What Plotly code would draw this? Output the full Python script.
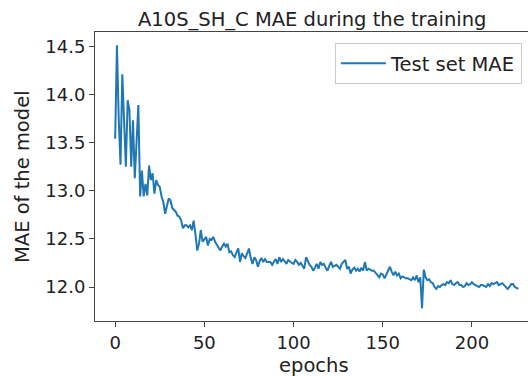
import plotly.graph_objects as go

epochs = list(range(227))
mae = [
    13.54, 14.51, 13.75, 13.27, 14.21, 13.70, 13.25, 13.94, 13.84, 13.25,
    13.73, 13.13, 13.45, 13.89, 12.94, 13.21, 12.94, 13.07, 12.95, 13.26,
    13.11, 13.18, 12.97, 13.11, 13.06, 13.04, 12.94, 12.88, 12.76, 12.86,
    12.92, 12.90, 12.82, 12.80, 12.78, 12.74, 12.73, 12.69, 12.61, 12.64,
    12.64, 12.62, 12.64, 12.59, 12.69, 12.55, 12.38, 12.45, 12.59, 12.47,
    12.50, 12.52, 12.43, 12.50, 12.49, 12.52, 12.47, 12.44, 12.40, 12.38,
    12.42, 12.45, 12.42, 12.45, 12.36, 12.37, 12.33, 12.31, 12.36, 12.40,
    12.26, 12.35, 12.32, 12.30, 12.35, 12.40, 12.30, 12.24, 12.31, 12.28,
    12.21, 12.27, 12.30, 12.26, 12.29, 12.26, 12.26, 12.26, 12.23, 12.26,
    12.29, 12.24, 12.31, 12.26, 12.29, 12.27, 12.24, 12.28, 12.26, 12.25,
    12.24, 12.28, 12.26, 12.23, 12.25, 12.22, 12.19, 12.31, 12.26, 12.23,
    12.21, 12.17, 12.20, 12.24, 12.19, 12.26, 12.23, 12.24, 12.20, 12.17,
    12.22, 12.26, 12.21, 12.22, 12.23, 12.21, 12.19, 12.24, 12.26, 12.28,
    12.19, 12.21, 12.14, 12.18, 12.20, 12.17, 12.19, 12.16, 12.20, 12.17,
    12.26, 12.17, 12.19, 12.18, 12.17, 12.17, 12.15, 12.12, 12.10, 12.14,
    12.13, 12.09, 12.13, 12.17, 12.21, 12.16, 12.12, 12.16, 12.12, 12.14,
    12.09, 12.11, 12.10, 12.09, 12.09, 12.08, 12.07, 12.10, 12.07, 12.12,
    12.05, 12.10, 11.78, 12.18, 12.10, 12.07, 12.08, 12.05, 12.04, 12.00,
    11.98, 12.01, 12.00, 12.02, 12.03, 12.02, 12.05, 12.04, 12.07, 12.03,
    12.02, 12.04, 12.05, 12.02, 12.02, 12.00, 12.01, 12.04, 12.02, 12.03,
    12.05, 12.03, 12.02, 12.01, 12.00, 12.02, 12.02, 12.01, 12.00, 12.03,
    12.01, 12.04, 12.03, 12.04, 12.05, 12.02, 12.03, 12.04, 12.02, 12.00,
    11.98, 12.00, 12.03, 12.03, 12.00, 11.99, 11.98,
]
x_ticks = [0, 50, 100, 150, 200]
y_ticks = [12.0, 12.5, 13.0, 13.5, 14.0, 14.5]

title = "A10S_SH_C MAE during the training"
x_label = "epochs"
y_label = "MAE of the model"
series_name = "Test set MAE"

FONT = "DejaVu Sans"
FS = 19.5
TICK_FS = 18
TXT = "#222222"

fig = go.Figure()
fig.add_trace(go.Scatter(
    x=epochs, y=mae, mode="lines", name=series_name,
    line=dict(color="#1f77b4", width=2),
))

fig.update_layout(
    width=528, height=376,
    margin=dict(l=95, r=0, t=32, b=55, pad=0),
    paper_bgcolor="white", plot_bgcolor="white",
    font=dict(family=FONT, size=FS, color=TXT),
    showlegend=True,
    legend=dict(
        x=0.986, y=0.962, xanchor="right", yanchor="top",
        bgcolor="white", bordercolor="#cccccc", borderwidth=1,
        itemwidth=45,
        font=dict(family=FONT, size=FS, color=TXT),
    ),
    annotations=[
        dict(text=title, xref="paper", yref="paper", x=0.5, y=1.0,
             xanchor="center", yanchor="bottom", yshift=-1.5, showarrow=False,
             font=dict(family=FONT, size=FS, color=TXT)),
        dict(text=x_label, xref="paper", yref="paper", x=0.505, y=0,
             xanchor="center", yanchor="top", yshift=-31, showarrow=False,
             font=dict(family=FONT, size=FS, color=TXT)),
        dict(text=y_label, xref="paper", yref="paper", x=0, y=0.5,
             xanchor="right", yanchor="middle", xshift=-59, textangle=-90,
             showarrow=False, font=dict(family=FONT, size=FS, color=TXT)),
    ],
)
fig.update_xaxes(
    range=[-11.3, 231.4], tickvals=x_ticks, ticktext=[str(v) for v in x_ticks],
    showgrid=False, zeroline=False, showline=True, linecolor="#444444",
    linewidth=1, mirror=True, ticks="outside", ticklen=5, tickcolor="#444444",
    tickfont=dict(family=FONT, size=TICK_FS, color=TXT),
)
fig.update_yaxes(
    range=[11.647, 14.648], tickvals=y_ticks, ticktext=[f"{v:.1f}" for v in y_ticks],
    showgrid=False, zeroline=False, showline=True, linecolor="#444444",
    linewidth=1, mirror=False, ticks="outside", ticklen=5, tickcolor="#444444",
    tickfont=dict(family=FONT, size=TICK_FS, color=TXT),
)

fig.write_html("out.html")
